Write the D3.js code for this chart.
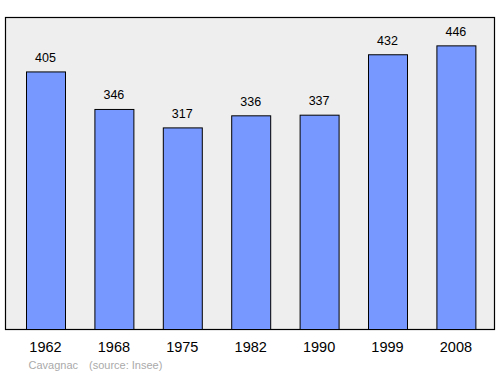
<!DOCTYPE html>
<html>
<head>
<meta charset="utf-8">
<script src="https://cdn.jsdelivr.net/npm/d3@7"></script>
<style>
  body { margin: 0; background: #fff; }
  text { font-family: "Liberation Sans", Arial, sans-serif; }
</style>
</head>
<body>
<svg id="graph" width="500" height="374"></svg>
<script>
// 数据
const years = ['1962', '1968', '1975', '1982', '1990', '1999', '2008'];
const population = [405, 346, 317, 336, 337, 432, 446];
const commune = 'Cavagnac';
const source = '(source: Insee)';

const svg = d3.select('#graph');
const frame = { left: 5, right: 495, top: 17, bottom: 329 };

const xScale = d3.scaleBand()
    .domain(years)
    .range([11.3, 490.1])
    .paddingInner(0.43)
    .paddingOuter(0.215);

const yScale = d3.scaleLinear()
    .domain([0, d3.max(population) * 1.1])
    .range([frame.bottom, frame.top]);

// 背景框
svg.append('rect')
    .attr('x', frame.left + 0.5)
    .attr('y', frame.top + 0.5)
    .attr('width', frame.right - frame.left - 1)
    .attr('height', frame.bottom - frame.top)
    .attr('fill', '#eeeeee')
    .attr('stroke', '#000')
    .attr('stroke-width', 1.2);

const data = years.map((y, i) => ({ year: y, value: population[i] }));

svg.selectAll('.bar').data(data).enter().append('rect')
    .attr('class', 'bar')
    .attr('x', d => xScale(d.year) + 0.5)
    .attr('y', d => yScale(d.value) + 0.5)
    .attr('width', xScale.bandwidth())
    .attr('height', d => yScale(0) - yScale(d.value))
    .attr('fill', '#7799ff')
    .attr('stroke', '#000')
    .attr('stroke-width', 1);

svg.selectAll('.value_label').data(data).enter().append('text')
    .attr('class', 'value_label')
    .attr('x', d => xScale(d.year) + xScale.bandwidth() / 2)
    .attr('y', d => yScale(d.value) - 9.5)
    .attr('text-anchor', 'middle')
    .style('font-size', '12.5px')
    .attr('fill', '#000')
    .text(d => d.value);

svg.selectAll('.name_label').data(data).enter().append('text')
    .attr('class', 'name_label')
    .attr('x', d => xScale(d.year) + xScale.bandwidth() / 2)
    .attr('y', 352)
    .attr('text-anchor', 'middle')
    .style('font-size', '14.5px')
    .attr('fill', '#000')
    .text(d => d.year);

svg.append('text')
    .attr('x', 28.5)
    .attr('y', 369)
    .style('font-size', '11px')
    .attr('fill', '#aaaaaa')
    .text(commune);

svg.append('text')
    .attr('x', 89)
    .attr('y', 369)
    .style('font-size', '11px')
    .attr('fill', '#aaaaaa')
    .text(source);
</script>
</body>
</html>
